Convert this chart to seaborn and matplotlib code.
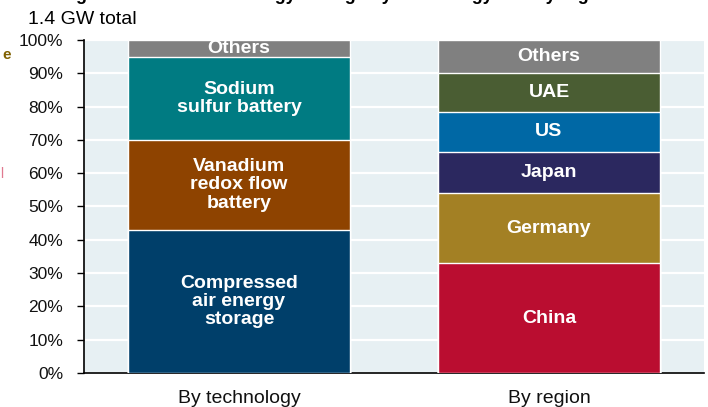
import numpy as np
import pandas as pd
import matplotlib
matplotlib.use("Agg")
import matplotlib.pyplot as plt
import seaborn as sns

# ---------------- data (shares in %) ----------------
categories = ["By technology", "By region"]

tech_labels = ["Compressed\nair energy\nstorage", "Vanadium\nredox flow\nbattery",
               "Sodium\nsulfur battery", "Others"]
tech_values = [43, 27, 25, 5]
tech_colors = ["#003F6A", "#8E4300", "#007B82", "#808080"]

region_labels = ["China", "Germany", "Japan", "US", "UAE", "Others"]
region_values = [33, 21, 12.5, 12, 11.5, 10]
region_colors = ["#BA0D30", "#A38024", "#2B285F", "#0068A5", "#4A5D33", "#808080"]

yticks = np.arange(0, 101, 10)

# ---------------- style ----------------
sns.set_theme(style="white")
plt.rcParams['font.family'] = ['Liberation Sans', 'DejaVu Sans']

fig = plt.figure(figsize=(7.08, 4.07), dpi=100)
ax = fig.add_axes([84 / 708, 34 / 407, 620 / 708, 333 / 407])
ax.set_facecolor("#E7F0F3")

bar_w = 0.715

# stacked bars: draw cumulative tops from the highest segment downwards
groups = [(categories[0], tech_labels, tech_values, tech_colors),
          (categories[1], region_labels, region_values, region_colors)]
for cat, labels, values, colors in groups:
    tops = np.cumsum(values)
    for i in range(len(values) - 1, -1, -1):
        df = pd.DataFrame({"cat": [cat], "top": [tops[i]]})
        sns.barplot(data=df, x="cat", y="top", order=categories, color=colors[i],
                    width=bar_w, edgecolor="white", linewidth=1.0, saturation=1,
                    ax=ax, zorder=3)
    # segment labels
    xpos = categories.index(cat)
    bottoms = tops - np.array(values)
    for lab, b, v in zip(labels, bottoms, values):
        ax.text(xpos, b + v / 2, lab, ha="center", va="center", color="white",
                fontsize=14, fontweight="bold", linespacing=1.1, zorder=5)

# ---------------- axes ----------------
ax.set_ylim(0, 100)
ax.set_xlim(-0.5, 1.5)
ax.set_yticks(yticks)
ax.set_yticklabels([f"{v}%" for v in yticks])
ax.yaxis.grid(True, color="white", linewidth=1.6, zorder=0)
ax.set_axisbelow(True)
ax.set_xlabel("")
ax.set_ylabel("")

ax.set_xticks([0, 1])
ax.set_xticklabels(categories)
ax.set_xticks([-0.5, 0.5, 1.5], minor=True)
ax.tick_params(axis="x", which="major", length=0, pad=12, labelsize=14, colors="#111111")
ax.tick_params(axis="x", which="minor", length=5, width=1, direction="out", color="black")
ax.tick_params(axis="y", length=5, width=1, direction="out", color="black",
               labelsize=12.5, pad=10, labelcolor="#111111")
ax.tick_params(axis="y", left=True)

for s in ["top", "right"]:
    ax.spines[s].set_visible(False)
for s in ["left", "bottom"]:
    ax.spines[s].set_color("black")
    ax.spines[s].set_linewidth(1.2)

# ---------------- titles / fragments ----------------
fig.text(60 / 708, 1 + 0.5 / 407,
         "Figure 3: Worldwide energy storage by technology and by region",
         ha="left", va="baseline", fontsize=13, fontweight="bold", color="black")
fig.text(28 / 708, 1 - 19 / 407, "1.4 GW total", ha="left", va="center",
         fontsize=14, color="black")
# fragments of neighbouring content at left border
fig.text(11 / 708, 1 - 55 / 407, "e", ha="right", va="center", fontsize=11,
         fontweight="bold", color="#7F6000")
fig.text(3 / 708, 1 - 174 / 407, "l", ha="right", va="center", fontsize=10,
         color="#E07A90")

fig.savefig("out.png", dpi=100)
